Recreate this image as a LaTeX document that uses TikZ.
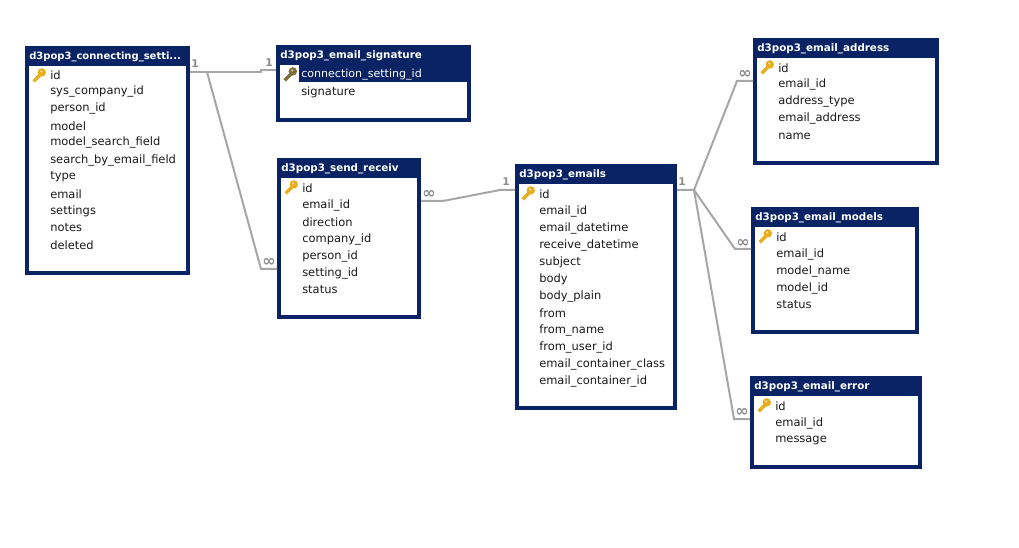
\documentclass[tikz,border=0pt]{standalone}
\usepackage{fontspec}
\setmainfont{DejaVu Sans}
\usetikzlibrary{shapes,arrows.meta}
\usetikzlibrary{calc}
\definecolor{tablenavy}{HTML}{0A2364}
\definecolor{linegray}{HTML}{A6A6A6}
\definecolor{markgray}{HTML}{8C8C8C}
\definecolor{keygold}{HTML}{E9AE1E}
\definecolor{keydim}{HTML}{7D6C3C}
\tikzset{
	tablebox/.style={draw=tablenavy,line width=3pt,fill=white,anchor=north west,inner sep=0pt},
	tabletitle/.style={anchor=west,inner sep=0pt,text=white,font=\fontsize{7.75}{10}\selectfont\bfseries},
	rowtext/.style={anchor=west,inner sep=0pt,text=black!90,font=\fontsize{8.6}{10}\selectfont},
	relline/.style={draw=linegray,line width=1.5pt},
	markone/.style={inner sep=0pt,text=markgray,font=\fontsize{8}{10}\selectfont\bfseries},
	markmany/.style={inner sep=0pt,text=markgray,font=\fontsize{12}{12}\selectfont\bfseries},
	keyicon/.pic={
		\fill[#1,rotate=-45] (-1.7,0) rectangle (1.7,9);
		\fill[#1] (1.8,-2.6) circle (4.2);
		\fill[white,opacity=.6] (1.2,-3.6) circle (1.2);
	}
}
\begin{document}
\begin{tikzpicture}[x=0.75pt,y=-0.75pt]
	\useasboundingbox (0,0) rectangle (1019,548);
	% tables
	\node [tablebox,minimum width=161*0.75pt,minimum height=225*0.75pt] (connecting) at (25,46) {};
	\fill[tablenavy] (25,46) rectangle (190,66);
	\node [tabletitle,font=\fontsize{7.5}{10}\selectfont\bfseries] (connectingtitle) at (29,57) {d3pop3\_connecting\_setti...};
	\pic at (40,75) {keyicon=keygold};
	\foreach \name [count=\i from 0] in {id,sys\_company\_id,person\_id,model,model\_search\_field,search\_by\_email\_field,type,email,settings,notes,deleted}
		\node [rowtext] (connecting\i) at (50,75+17*\i) {\name};

	\node [tablebox,minimum width=191*0.75pt,minimum height=73*0.75pt] (signature) at (276,45) {};
	\fill[tablenavy] (276,45) rectangle (471,65);
	\fill[tablenavy] (299,65) rectangle (467,82);
	\node [tabletitle] (signaturetitle) at (280,56) {d3pop3\_email\_signature};
	\pic at (291,74) {keyicon=keydim};
	\node [rowtext,text=white,font=\fontsize{8.3}{10}\selectfont] (signature0) at (301,75) {connection\_setting\_id};
	\node [rowtext] (signature1) at (301,92) {signature};

	\node [tablebox,minimum width=140*0.75pt,minimum height=157*0.75pt] (sendreceiv) at (277,158) {};
	\fill[tablenavy] (277,158) rectangle (421,178);
	\node [tabletitle] (sendreceivtitle) at (281,169) {d3pop3\_send\_receiv};
	\pic at (292,187) {keyicon=keygold};
	\foreach \name [count=\i from 0] in {id,email\_id,direction,company\_id,person\_id,setting\_id,status}
		\node [rowtext] (sendreceiv\i) at (302,188+17*\i) {\name};

	\node [tablebox,minimum width=158*0.75pt,minimum height=242*0.75pt] (emails) at (515,164) {};
	\fill[tablenavy] (515,164) rectangle (677,184);
	\node [tabletitle] (emailstitle) at (519,175) {d3pop3\_emails};
	\pic at (529,193) {keyicon=keygold};
	\foreach \name [count=\i from 0] in {id,email\_id,email\_datetime,receive\_datetime,subject,body,body\_plain,from,from\_name,from\_user\_id,email\_container\_class,email\_container\_id}
		\node [rowtext] (emails\i) at (539,194+17*\i) {\name};

	\node [tablebox,minimum width=182*0.75pt,minimum height=123*0.75pt] (address) at (753,38) {};
	\fill[tablenavy] (753,38) rectangle (939,58);
	\node [tabletitle] (addresstitle) at (757,49) {d3pop3\_email\_address};
	\pic at (768,67) {keyicon=keygold};
	\foreach \name [count=\i from 0] in {id,email\_id,address\_type,email\_address,name}
		\node [rowtext] (address\i) at (778,68+17*\i) {\name};

	\node [tablebox,minimum width=164*0.75pt,minimum height=123*0.75pt] (models) at (751,207) {};
	\fill[tablenavy] (751,207) rectangle (919,227);
	\node [tabletitle] (modelstitle) at (755,218) {d3pop3\_email\_models};
	\pic at (766,236) {keyicon=keygold};
	\foreach \name [count=\i from 0] in {id,email\_id,model\_name,model\_id,status}
		\node [rowtext] (models\i) at (776,237+17*\i) {\name};

	\node [tablebox,minimum width=168*0.75pt,minimum height=89*0.75pt] (error) at (750,376) {};
	\fill[tablenavy] (750,376) rectangle (922,396);
	\node [tabletitle] (errortitle) at (754,387) {d3pop3\_email\_error};
	\pic at (765,405) {keyicon=keygold};
	\foreach \name [count=\i from 0] in {id,email\_id,message}
		\node [rowtext] (error\i) at (775,406+17*\i) {\name};

	% bends of the connectors
	\coordinate (forkleft) at (207,72);
	\coordinate (signbend) at (261,70);
	\coordinate (sendbend) at (261,269);
	\coordinate (mailbendl) at (443,201);
	\coordinate (mailbendr) at (500,190);
	\coordinate (forkright) at (694,190);
	\coordinate (addrbend) at (737,81);
	\coordinate (modelbend) at (735,249);
	\coordinate (errbend) at (734,419);

	\draw [relline] (connecting.east |- forkleft) -- (forkleft) -- (261,72) -- (signbend) -- (signature.west |- signbend);
	\draw [relline] (forkleft) -- (sendbend) -- (sendreceiv.west |- sendbend);
	\draw [relline] (sendreceiv.east |- mailbendl) -- (mailbendl) -- (mailbendr) -- (emails.west |- mailbendr);
	\draw [relline] (emails.east |- forkright) -- (forkright) -- (addrbend) -- (address.west |- addrbend);
	\draw [relline] (forkright) -- (modelbend) -- (models.west |- modelbend);
	\draw [relline] (forkright) -- (errbend) -- (error.west |- errbend);

	% cardinalities
	\node [markone] (one1) at (195,64) {1};
	\node [markone] (one2) at (269,63) {1};
	\node [markmany] (many1) at (269,262) {∞};
	\node [markmany] (many2) at (429,194) {∞};
	\node [markone] (one3) at (506,182) {1};
	\node [markone] (one4) at (682,182) {1};
	\node [markmany] (many3) at (745,74) {∞};
	\node [markmany] (many4) at (743,243) {∞};
	\node [markmany] (many5) at (742,412) {∞};
\end{tikzpicture}
\end{document}
